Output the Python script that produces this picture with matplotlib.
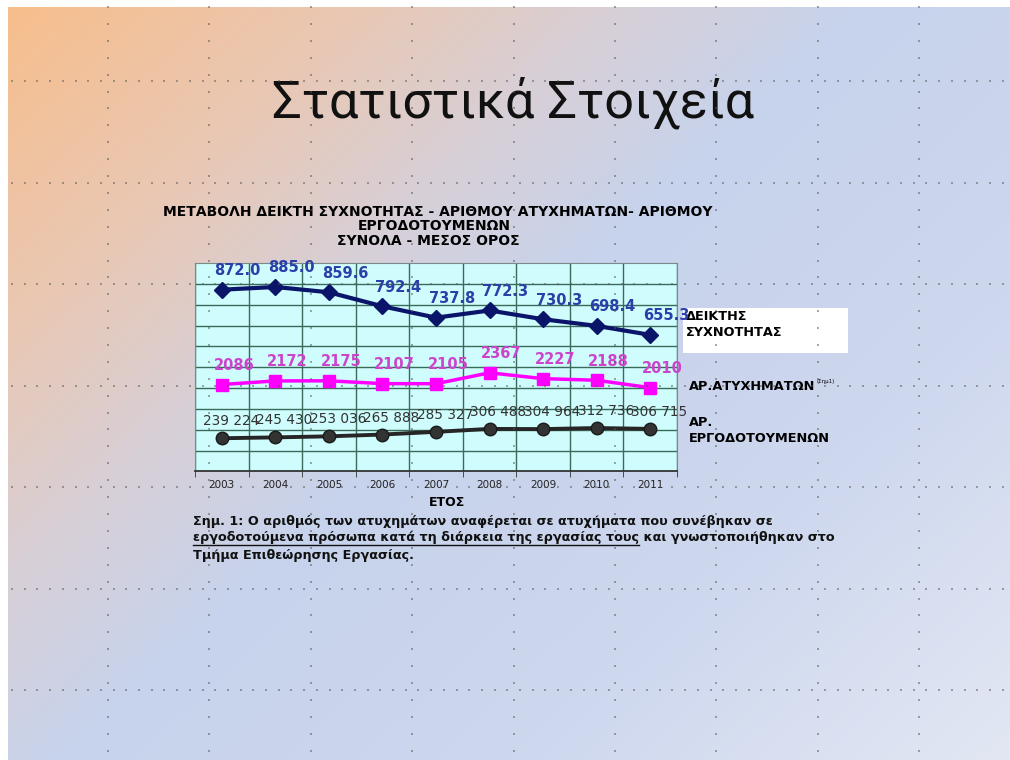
import numpy as np
import matplotlib.pyplot as plt
from matplotlib.patches import Rectangle

# data
years = ["2003", "2004", "2005", "2006", "2007", "2008", "2009", "2010", "2011"]
freq_index = [872.0, 885.0, 859.6, 792.4, 737.8, 772.3, 730.3, 698.4, 655.3]
accidents = [2086, 2172, 2175, 2107, 2105, 2367, 2227, 2188, 2010]
employers = [239224, 245430, 253036, 265888, 285327, 306488, 304964, 312736, 306715]

W, H = 1010, 760
fig = plt.figure(figsize=(W / 100, H / 100), dpi=100)
fig.patch.set_facecolor("white")

# slide background with diagonal gradient
bg = fig.add_axes([0, 0, 1, 1], zorder=0)
bg.axis("off")

gx, gy = np.meshgrid(np.linspace(0, 1, 300), np.linspace(0, 1, 230))
s = gx + 0.8 * gy
stops = [0.0, 0.35, 0.6, 0.85, 1.3, 1.8]
cols = np.array([
    [247, 190, 140],
    [233, 200, 180],
    [216, 207, 214],
    [199, 211, 236],
    [205, 215, 238],
    [226, 231, 243],
]) / 255.0
img = np.zeros(s.shape + (3,))
for c in range(3):
    img[..., c] = np.interp(s, stops, cols[:, c])
bg.imshow(img, extent=[8, W, H, 7], aspect="auto", interpolation="bilinear")
bg.set_xlim(0, W)
bg.set_ylim(H, 0)

# slide title
bg.text(513, 103, "Στατιστικά Στοιχεία", fontsize=37.5, family=["Roboto", "DejaVu Sans"],
        ha="center", va="center", color="#111111")

# chart title
title_font = dict(fontsize=10, fontweight="bold", color="black", family="DejaVu Sans")
bg.text(438, 212, "ΜΕΤΑΒΟΛΗ ΔΕΙΚΤΗ ΣΥΧΝΟΤΗΤΑΣ - ΑΡΙΘΜΟΥ ΑΤΥΧΗΜΑΤΩΝ- ΑΡΙΘΜΟΥ",
        ha="center", va="center", **title_font)
bg.text(434, 226, "ΕΡΓΟΔΟΤΟΥΜΕΝΩΝ", ha="center", va="center", **title_font)
bg.text(428, 241, "ΣΥΝΟΛΑ - ΜΕΣΟΣ ΟΡΟΣ", ha="center", va="center", **title_font)

# chart
left, right, top, bottom = 195, 677, 263, 471.5
ax = fig.add_axes([left / W, 1 - bottom / H, (right - left) / W, (bottom - top) / H], zorder=2)
ax.set_facecolor("#cffcfc")
x = np.arange(len(years))
ax.set_xlim(-0.5, len(years) - 0.5)
ax.set_ylim(0, 1000)
ax.set_yticks(np.arange(100, 1000, 100))
ax.set_yticklabels([])
ax.tick_params(axis="y", length=0)
ax.set_xticks(x)
ax.set_xticklabels(years, fontsize=7.5, color="#222222")
ax.set_xticks(np.arange(-0.5, len(years), 1), minor=True)
ax.tick_params(axis="x", which="major", length=0, pad=6)
ax.tick_params(axis="x", which="minor", length=4, color="#333333", direction="out")
ax.grid(True, axis="y", color="#3a6a5a", lw=1)
ax.grid(True, axis="x", which="minor", color="#3a6a5a", lw=1)
for side in ["top", "right", "left"]:
    ax.spines[side].set_color("#7a8a8a")
ax.spines["bottom"].set_color("#333333")
ax.spines["bottom"].set_linewidth(1.3)

ax.plot(x, freq_index, color="#0a1468", lw=3, marker="D", ms=8, zorder=5)
for xi, v in zip(x, freq_index):
    ax.annotate(f"{v:.1f}", (xi, v), xytext=(16, 19), textcoords="offset pixels",
                ha="center", va="center", fontsize=10.5, fontweight="bold",
                color="#2a3fa8", annotation_clip=False)

ax_acc = ax.twinx()
ax_acc.set_ylim(0, 5000)
ax_acc.axis("off")
ax_acc.plot(x, accidents, color="#ff00ff", lw=2.5, marker="s", ms=8.5)
for xi, v in zip(x, accidents):
    ax_acc.annotate(f"{v}", (xi, v), xytext=(12, 19), textcoords="offset pixels",
                    ha="center", va="center", fontsize=10.5, fontweight="bold",
                    color="#cc44cc", annotation_clip=False)

ax_emp = ax.twinx()
ax_emp.set_ylim(0, 1500000)
ax_emp.axis("off")
ax_emp.plot(x, employers, color="#262626", lw=2.8, marker="o", ms=9,
            markerfacecolor="#333333", markeredgecolor="#1a1a1a")
for xi, v in zip(x, employers):
    ax_emp.annotate(f"{v:,}".replace(",", " "), (xi, v), xytext=(9, 17),
                    textcoords="offset pixels", ha="center", va="center",
                    fontsize=9.8, color="#333333", annotation_clip=False)

bg.text(447, 503, "ΕΤΟΣ", ha="center", va="center", fontsize=9, fontweight="bold")

# series names at the right
bg.add_patch(Rectangle((683, 308), 165, 45, facecolor="white", edgecolor="none"))
name_font = dict(fontsize=9.3, fontweight="bold", color="black", ha="left", va="center")
bg.text(686, 317, "ΔΕΙΚΤΗΣ", **name_font)
bg.text(686, 333, "ΣΥΧΝΟΤΗΤΑΣ", **name_font)
acc_name = bg.text(689, 386, "ΑΡ.ΑΤΥΧΗΜΑΤΩΝ", **name_font)
bg.text(689, 422, "ΑΡ.", **name_font)
bg.text(689, 438, "ΕΡΓΟΔΟΤΟΥΜΕΝΩΝ", **name_font)

# note under the chart
note_font = dict(fontsize=9.2, fontweight="bold", color="#111111", ha="left", va="center")
bg.text(193, 522, "Σημ. 1: Ο αριθμός των ατυχημάτων αναφέρεται σε ατυχήματα που συνέβηκαν σε",
        **note_font)
u = bg.text(193, 538, "εργοδοτούμενα πρόσωπα κατά τη διάρκεια της εργασίας τους", **note_font)
bg.text(193, 555, "Τμήμα Επιθεώρησης Εργασίας.", **note_font)
fig.canvas.draw()
inv = bg.transData.inverted()
ext = u.get_window_extent().transformed(inv)
bg.plot([193, ext.x1], [544.5, 544.5], color="#111111", lw=1)
bg.text(ext.x1, 538, " και γνωστοποιήθηκαν στο", **note_font)
acc_ext = acc_name.get_window_extent().transformed(inv)
bg.text(acc_ext.x1 + 1, 381, "(Σημ1)", fontsize=4, color="black", ha="left", va="center")

# dotted drawing guides over the slide
ov = fig.add_axes([0, 0, 1, 1], zorder=10)
ov.set_xlim(0, W)
ov.set_ylim(H, 0)
ov.axis("off")
col_x = 108 + 101.4 * np.arange(9)
row_y = 81 + 101.5 * np.arange(7)
dy = np.arange(7, H, 16.9)
dx = np.arange(12, W - 4, 12.7)
for cx in col_x:
    ov.scatter(np.full(dy.shape, cx), dy, s=1.2, marker="s", color="#555555", alpha=0.5, lw=0)
for ry in row_y:
    ov.scatter(dx, np.full(dx.shape, ry), s=1.2, marker="s", color="#555555", alpha=0.5, lw=0)

fig.savefig("out.png", dpi=100)
